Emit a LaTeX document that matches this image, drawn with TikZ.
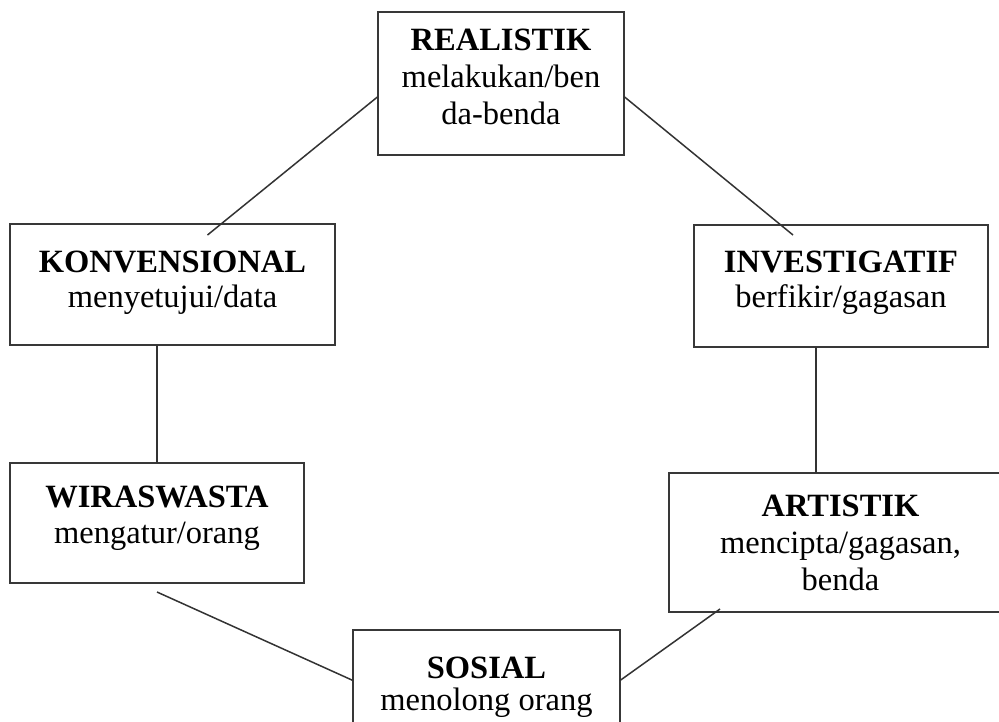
\documentclass[tikz,border=0pt]{standalone}
\usepackage{fontspec}
\setmainfont{Liberation Serif}
\usetikzlibrary{calc}
\definecolor{boxgray}{gray}{0.22}
\definecolor{linkgray}{gray}{0.2}
\newcommand\boxtext[5]{\parbox[c][#2][t]{#1}{\fontsize{32.5}{#4}\selectfont\centering\rule{0pt}{#3}#5}}
\tikzset{
  box/.style={draw=boxgray, line width=2pt, inner sep=0pt, outer sep=0pt, text=black},
  link/.style={draw=linkgray, line width=1.5pt}
}
\begin{document}
\begin{tikzpicture}[x=1pt, y=-1pt]
\useasboundingbox (0,0) rectangle (999,721);
\clip (0,0) rectangle (999,721);
\node[box] (R) at (501,83.5) {\boxtext{246pt}{143pt}{38pt}{37pt}{\textbf{REALISTIK}\\melakukan/ben\\da-benda}};
\node[box] (K) at (172.5,284.5) {\boxtext{325pt}{121pt}{48pt}{35pt}{\textbf{KONVENSIONAL}\\menyetujui/data}};
\node[box] (I) at (841,286) {\boxtext{294pt}{122pt}{47pt}{35pt}{\textbf{INVESTIGATIF}\\berfikir/gagasan}};
\node[box] (W) at (157,523) {\boxtext{294pt}{120pt}{44pt}{36pt}{\textbf{WIRASWASTA}\\mengatur/orang}};
\node[box] (A) at (840.5,542.5) {\boxtext{343pt}{139pt}{43pt}{37pt}{\textbf{ARTISTIK}\\mencipta/gagasan,\\benda}};
\node[box] (S) at (486.5,687.5) {\boxtext{267pt}{115pt}{48pt}{32pt}{\textbf{SOSIAL}\\menolong orang}};
\draw[link] ($(R.west)+(0,13)$) -- ($(K.north)+(35,11)$);
\draw[link] ($(R.east)+(0,13)$) -- ($(I.north)+(-48,10)$);
\draw[link] (K.south -| W.north) -- (W.north);
\draw[link] ($(I.south)+(-25,0)$) coordinate (ia) -- (ia |- A.north);
\draw[link] ($(W.south)+(0,9)$) -- ($(S.west)+(0,-7)$);
\draw[link] ($(S.east)+(0,-7)$) -- ($(A.south west)+(51,-3)$);
\end{tikzpicture}
\end{document}
